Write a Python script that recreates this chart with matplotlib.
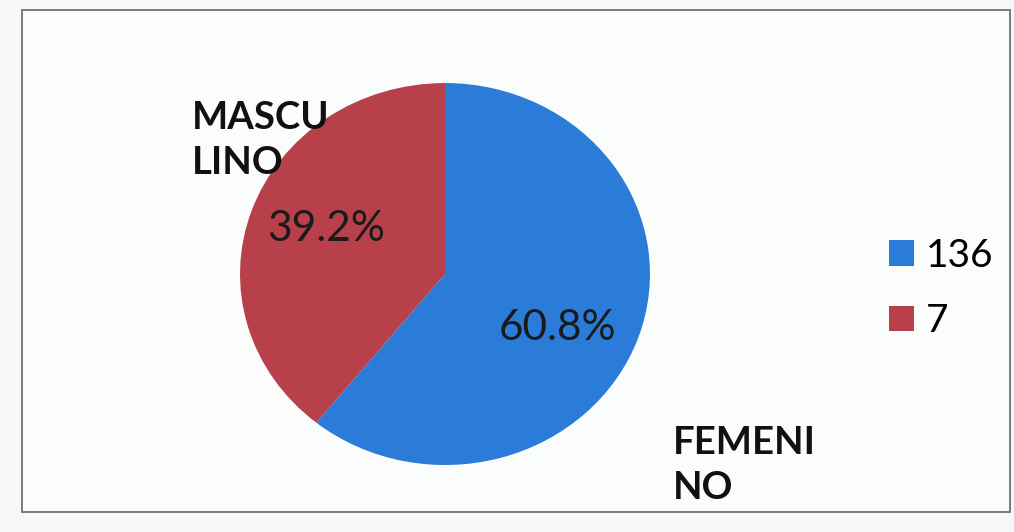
import matplotlib.pyplot as plt
from matplotlib.patches import Rectangle

# datos del gráfico de sexo
categorias = ["FEMENI\nNO", "MASCU\nLINO"]
porcentajes = [60.8, 39.2]
leyenda = ["136", "7"]
colores = ["#2b7bd8", "#b8404a"]

plt.rcParams["font.family"] = ["Lato", "DejaVu Sans"]

fig = plt.figure(figsize=(10.14, 5.32), dpi=100, facecolor="#f6f7f7")

# marco del gráfico
fig.patches.append(Rectangle((22 / 1014, 1 - 512 / 532), 988 / 1014, 502 / 532,
                             transform=fig.transFigure, fill=True, zorder=-5,
                             facecolor="#fbfcfc", edgecolor="#707070", lw=1.3))

ax = fig.add_axes([0.2367, 0.1259, 0.4043, 0.718])
ax.set_zorder(2)
wedges, _, autotexts = ax.pie(porcentajes, colors=colores, startangle=90,
                              counterclock=False, radius=1.0,
                              autopct="%1.1f%%", pctdistance=0.62,
                              textprops=dict(fontsize=30.5, color="#1a1a1a"))
ax.set_xlim(-1, 1)
ax.set_ylim(-1, 1)
ax.set_aspect("auto")

# posiciones de los porcentajes
autotexts[0].set_position((0.55, -0.28))
autotexts[1].set_position((-0.58, 0.235))

# nombres de las categorías fuera del pastel
fig.text(673 / 1014, 1 - 426 / 532, categorias[0], fontsize=27.5, fontweight="bold",
         ha="left", va="top", linespacing=1.4, color="#111111", zorder=3)
fig.text(192 / 1014, 1 - 101 / 532, categorias[1], fontsize=27.5, fontweight="bold",
         ha="left", va="top", linespacing=1.4, color="#111111", zorder=3)

fig.legend(wedges, leyenda, loc="upper left",
           bbox_to_anchor=(889 / 1014, 1 - 238 / 532), frameon=False,
           borderpad=0, borderaxespad=0,
           fontsize=28, handlelength=0.65, handleheight=0.65,
           handletextpad=0.3, labelspacing=0.75)

fig.savefig("out.png", dpi=100, facecolor=fig.get_facecolor())
